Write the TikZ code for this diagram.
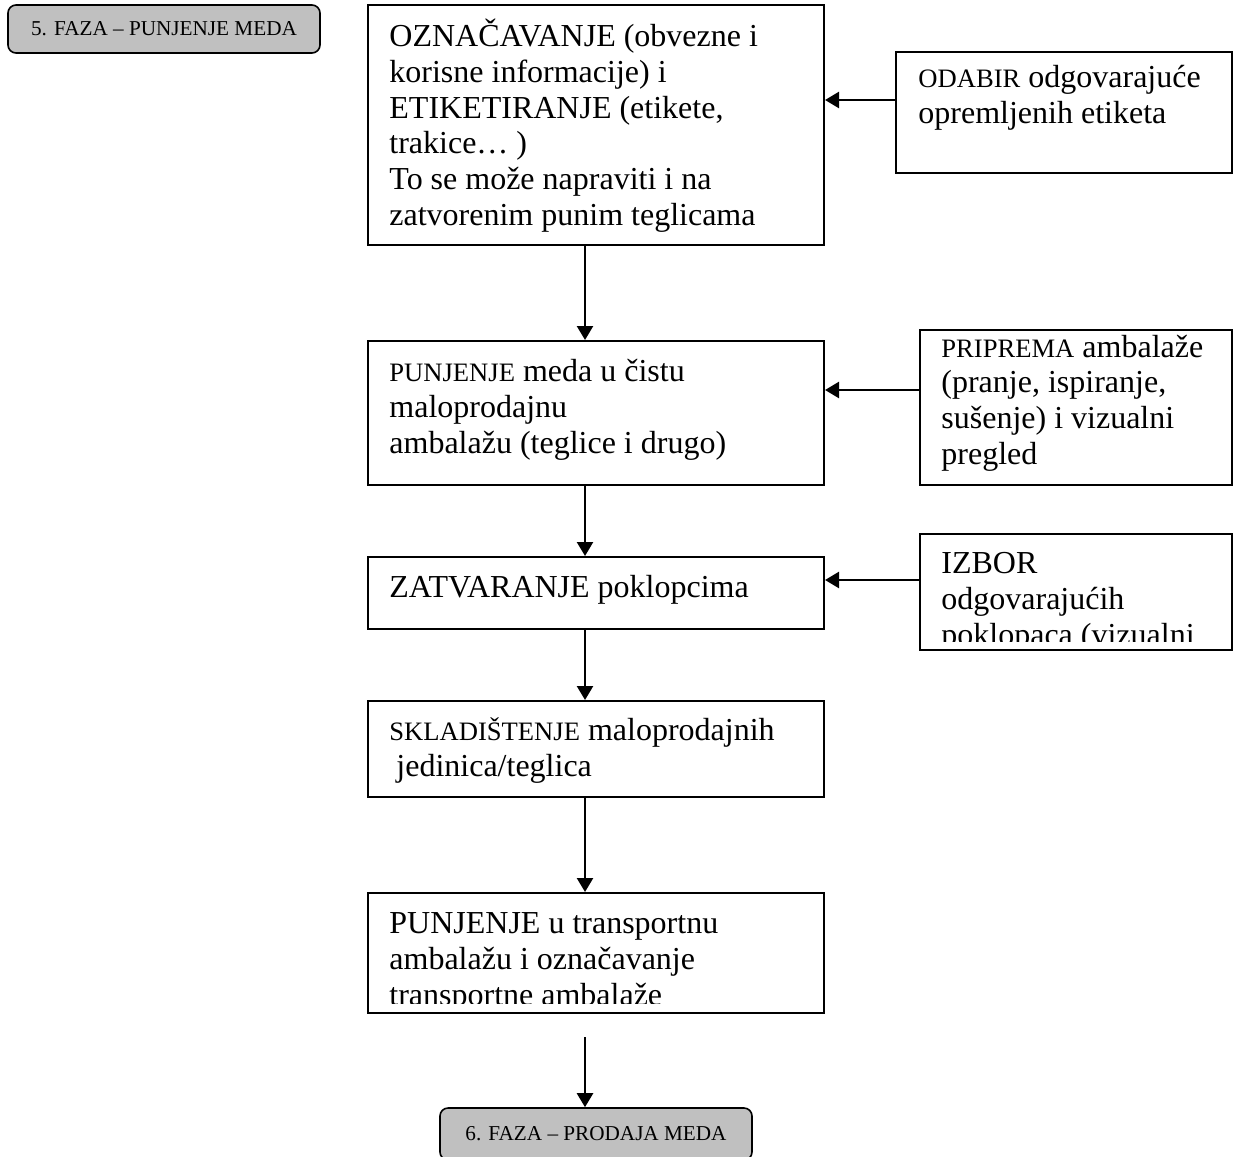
\documentclass[tikz,border=0pt]{standalone}
\usepackage{fontspec}
\setmainfont{Liberation Serif}
\usetikzlibrary{arrows.meta}
\definecolor{badgegray}{RGB}{192,192,192}
\newcommand{\sm}{\fontsize{13.3}{17.8}\selectfont}
\begin{document}
\begin{tikzpicture}[x=0.5pt,y=-0.5pt,
  box/.style={draw, line width=1pt, inner sep=0pt, minimum width=228pt},
  rbox/.style={draw, line width=1pt, inner sep=0pt},
  badge/.style={draw, line width=0.8pt, rounded corners=4pt, fill=badgegray, inner sep=0pt,
    minimum width=156pt, font=\fontsize{10.6}{12}\selectfont},
  txt/.style={anchor=base west, inner sep=0pt, align=left, font=\fontsize{16}{17.8}\selectfont},
  arr/.style={-{Triangle[length=7pt,width=8pt]}, line width=1.2pt}]
\useasboundingbox (0,0) rectangle (1235,1156);

% badges
\node[badge, minimum height=24pt] (g1) at (164,29) {5. FAZA -- PUNJENJE MEDA};
\node[badge, minimum height=26pt] (g2) at (596,1134) {6. FAZA -- PRODAJA MEDA};

% main boxes
\node[box, minimum height=120pt] (b1) at (596,125) {};
\node[box, minimum height=72pt] (b2) at (596,413) {};
\node[box, minimum height=36pt] (b3) at (596,593) {};
\node[box, minimum height=48pt] (b4) at (596,749) {};
\node[box, minimum height=60pt] (b5) at (596,953) {};

% right boxes
\node[rbox, minimum width=168pt, minimum height=60.5pt] (r1) at (1064,112.5) {};
\node[rbox, minimum width=156pt, minimum height=77.5pt] (r2) at (1076,407.5) {};
\node[rbox, minimum width=156pt, minimum height=58pt] (r3) at (1076,592) {};

% texts (anchored at the baseline of their last line)
\node[txt] (t1) at (389,225) {OZNAČAVANJE (obvezne i\\ korisne informacije) i\\ ETIKETIRANJE (etikete,\\ trakice… )\\ To se može napraviti i na\\ zatvorenim punim teglicama};
\node[txt] (t2) at (389,453) {{\sm PUNJENJE} meda u čistu\\ maloprodajnu\\ ambalažu (teglice i drugo)};
\node[txt] (t3) at (389,597) {ZATVARANJE poklopcima};
\node[txt] (t4) at (389,776) {{\sm SKLADIŠTENJE} maloprodajnih\\ \hspace*{3.5pt}jedinica/teglica};
\begin{scope}
  \clip (b5.north west) rectangle (824,1003);
  \node[txt] (t5) at (389,1005) {PUNJENJE u transportnu\\ ambalažu i označavanje\\ transportne ambalaže};
\end{scope}
\node[txt] (s1) at (918,123) {{\sm ODABIR} odgovarajuće\\ opremljenih etiketa};
\node[txt] (s2) at (941,464) {{\sm PRIPREMA} ambalaže\\ (pranje, ispiranje,\\ sušenje) i vizualni\\ pregled};
\begin{scope}
  \clip (r3.north west) rectangle (1232,641);
  \node[txt] (s3) at (941,645) {IZBOR\\ odgovarajućih\\ poklopaca (vizualni};
\end{scope}

% connectors
\coordinate (ax) at (585,0);
\coordinate (ay1) at (0,100);
\coordinate (ay2) at (0,390);
\coordinate (ay3) at (0,580);
\coordinate (e5) at (585,1037);
\draw[arr] (b1.south -| ax) -- (b2.north -| ax);
\draw[arr] (b2.south -| ax) -- (b3.north -| ax);
\draw[arr] (b3.south -| ax) -- (b4.north -| ax);
\draw[arr] (b4.south -| ax) -- (b5.north -| ax);
\draw[arr] (e5) -- (g2.north -| ax);
\draw[arr] (r1.west |- ay1) -- (b1.east |- ay1);
\draw[arr] (r2.west |- ay2) -- (b2.east |- ay2);
\draw[arr] (r3.west |- ay3) -- (b3.east |- ay3);
\end{tikzpicture}
\end{document}
